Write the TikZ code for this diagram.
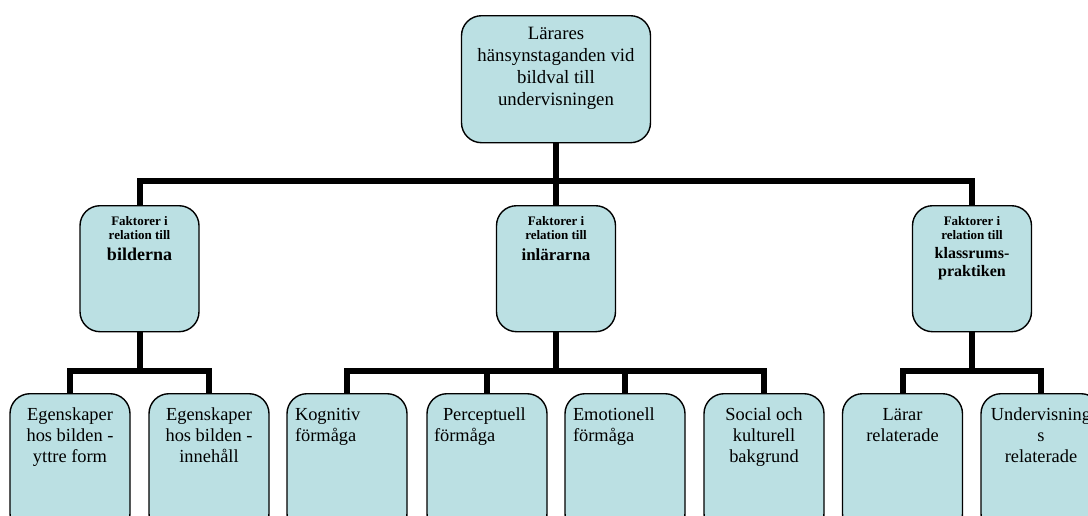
\documentclass[tikz,border=0pt]{standalone}
\usepackage{fontspec}
\setmainfont{Liberation Serif}
\definecolor{boxfill}{RGB}{187,224,227}
\tikzset{
  tbox/.style={draw=black, line width=1.4pt, fill=boxfill, rounded corners=20pt, inner sep=0pt, anchor=north},
  conn/.style={line width=6pt, line join=miter, line cap=butt},
}
\newcommand{\boxcontent}[3]{\begin{minipage}[t][#2][t]{#1}#3\end{minipage}}
\begin{document}
\begin{tikzpicture}[x=1pt,y=-1pt]
\useasboundingbox (0,0) rectangle (1088,515);
\clip (0,0) rectangle (1088,515);
\fill[white] (0,0) rectangle (1088,515);
% top
\node[tbox] (top) at (556,15) {\boxcontent{189pt}{127pt}{\centering\fontsize{18.8}{22}\selectfont\rule{0pt}{24pt}Lärares\\hänsynstaganden vid\\bildval till\\undervisningen\par}};
% level 2
\node[tbox] (f1) at (139.5,205) {\boxcontent{119pt}{126pt}{\centering\bfseries\fontsize{13}{14}\selectfont\rule{0pt}{20pt}Faktorer i\\relation till\par\fontsize{18}{21}\selectfont bilderna\par}};
\node[tbox] (f2) at (556,205) {\boxcontent{119pt}{126pt}{\centering\bfseries\fontsize{13}{14}\selectfont\rule{0pt}{20pt}Faktorer i\\relation till\par\fontsize{17}{21}\selectfont inlärarna\par}};
\node[tbox] (f3) at (972,205) {\boxcontent{119pt}{126pt}{\centering\bfseries\fontsize{13}{14}\selectfont\rule{0pt}{20pt}Faktorer i\\relation till\par\fontsize{16}{18.5}\selectfont klassrums-\\praktiken\par}};
% level 3
\node[tbox] (e1) at (70,393) {\boxcontent{120pt}{140pt}{\centering\fontsize{18.4}{21}\selectfont\rule{0pt}{27pt}Egenskaper\\hos bilden -\\yttre form\par}};
\node[tbox] (e2) at (209,393) {\boxcontent{120pt}{140pt}{\centering\fontsize{18.4}{21}\selectfont\rule{0pt}{27pt}Egenskaper\\hos bilden -\\innehåll\par}};
\node[tbox] (k1) at (347,393) {\boxcontent{120pt}{140pt}{\raggedright\leftskip=8pt\fontsize{18.4}{21}\selectfont\rule{0pt}{27pt}Kognitiv\\förmåga\par}};
\node[tbox] (p1) at (487,393) {\boxcontent{120pt}{140pt}{\raggedright\leftskip=7pt\fontsize{18.4}{21}\selectfont\rule{0pt}{27pt}\hspace*{9pt}Perceptuell\\förmåga\par}};
\node[tbox] (m1) at (625,393) {\boxcontent{120pt}{140pt}{\raggedright\leftskip=8pt\fontsize{18.4}{21}\selectfont\rule{0pt}{27pt}Emotionell\\förmåga\par}};
\node[tbox] (s1) at (764,393) {\boxcontent{120pt}{140pt}{\centering\fontsize{18.4}{21}\selectfont\rule{0pt}{27pt}Social och\\kulturell\\bakgrund\par}};
\node[tbox] (l1) at (902.5,393) {\boxcontent{120pt}{140pt}{\centering\fontsize{18.4}{21}\selectfont\rule{0pt}{27pt}Lärar\\relaterade\par}};
\node[tbox] (u1) at (1041,393) {\boxcontent{120pt}{140pt}{\centering\fontsize{18.4}{21}\selectfont\rule{0pt}{27pt}\makebox[0pt]{Undervisning}\\s\\relaterade\par}};
% connectors
\draw[conn] (top.south) -- ++(0,38) -| (f1.north);
\draw[conn] (top.south) -- ++(0,38) -| (f3.north);
\draw[conn] (top.south) -- (f2.north);
\draw[conn] (f1.south) -- ++(0,39) -| (e1.north);
\draw[conn] (f1.south) -- ++(0,39) -| (e2.north);
\draw[conn] (f2.south) -- ++(0,39) -| (k1.north);
\draw[conn] (f2.south) -- ++(0,39) -| (p1.north);
\draw[conn] (f2.south) -- ++(0,39) -| (m1.north);
\draw[conn] (f2.south) -- ++(0,39) -| (s1.north);
\draw[conn] (f3.south) -- ++(0,39) -| (l1.north);
\draw[conn] (f3.south) -- ++(0,39) -| (u1.north);
\end{tikzpicture}
\end{document}
